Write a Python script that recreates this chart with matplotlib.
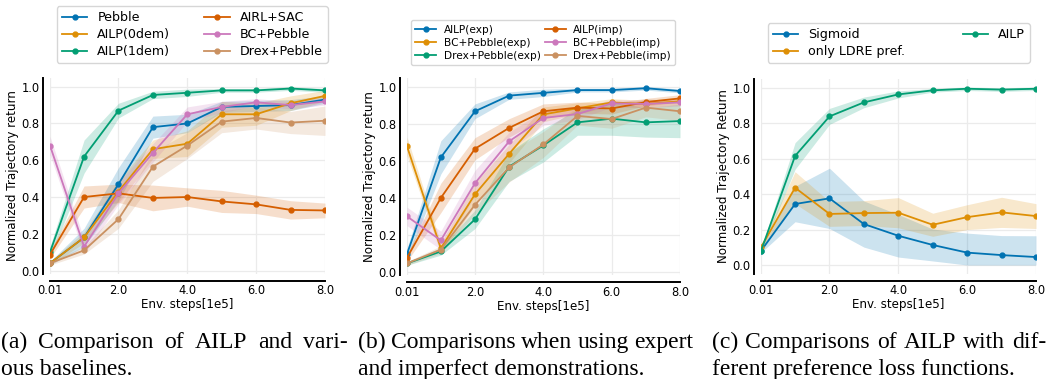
import numpy as np
import matplotlib.pyplot as plt

W, H = 1046, 379

steps = [0.01, 1, 2, 3, 4, 5, 6, 7, 8]
xticks = [0.01, 2, 4, 6, 8]
xticklabels = ["0.01", "2.0", "4.0", "6.0", "8.0"]

# (a) baselines
a_labels = ["Pebble", "AILP(0dem)", "AILP(1dem)", "AIRL+SAC", "BC+Pebble", "Drex+Pebble"]
a_pebble = [0.04, 0.18, 0.47, 0.78, 0.80, 0.89, 0.895, 0.90, 0.93]
a_ailp0 = [0.04, 0.18, 0.43, 0.66, 0.69, 0.85, 0.85, 0.91, 0.95]
a_ailp1 = [0.10, 0.62, 0.87, 0.955, 0.967, 0.98, 0.98, 0.99, 0.98]
a_airl = [0.087, 0.40, 0.42, 0.395, 0.40, 0.376, 0.36, 0.33, 0.327]
a_bc = [0.68, 0.13, 0.42, 0.64, 0.85, 0.89, 0.915, 0.90, 0.92]
a_drex = [0.04, 0.11, 0.28, 0.565, 0.68, 0.81, 0.83, 0.805, 0.815]
a_pebble_sd = [0.01, 0.05, 0.09, 0.06, 0.05, 0.03, 0.03, 0.03, 0.02]
a_ailp0_sd = [0.01, 0.03, 0.06, 0.05, 0.07, 0.07, 0.06, 0.04, 0.03]
a_ailp1_sd = [0.03, 0.09, 0.04, 0.02, 0.02, 0.01, 0.01, 0.01, 0.01]
a_airl_sd = [0.02, 0.06, 0.05, 0.07, 0.05, 0.06, 0.05, 0.05, 0.04]
a_bc_sd = [0.05, 0.04, 0.06, 0.05, 0.04, 0.03, 0.02, 0.02, 0.02]
a_drex_sd = [0.01, 0.02, 0.05, 0.08, 0.07, 0.06, 0.06, 0.06, 0.08]

# (b) expert vs imperfect demos
b_labels = ["AILP(exp)", "BC+Pebble(exp)", "Drex+Pebble(exp)",
            "AILP(imp)", "BC+Pebble(imp)", "Drex+Pebble(imp)"]
b_ailp_exp = [0.096, 0.62, 0.87, 0.955, 0.97, 0.985, 0.985, 0.995, 0.98]
b_bc_exp = [0.68, 0.127, 0.42, 0.64, 0.853, 0.886, 0.918, 0.91, 0.924]
b_drex_exp = [0.045, 0.11, 0.284, 0.57, 0.685, 0.81, 0.83, 0.81, 0.817]
b_ailp_imp = [0.076, 0.40, 0.667, 0.78, 0.87, 0.89, 0.885, 0.92, 0.94]
b_bc_imp = [0.30, 0.17, 0.48, 0.707, 0.834, 0.855, 0.913, 0.91, 0.918]
b_drex_imp = [0.045, 0.12, 0.363, 0.566, 0.69, 0.845, 0.828, 0.89, 0.87]
b_ailp_exp_sd = [0.03, 0.09, 0.04, 0.02, 0.02, 0.01, 0.01, 0.01, 0.01]
b_bc_exp_sd = [0.05, 0.03, 0.06, 0.05, 0.04, 0.03, 0.02, 0.02, 0.02]
b_drex_exp_sd = [0.01, 0.02, 0.05, 0.08, 0.09, 0.07, 0.09, 0.08, 0.09]
b_ailp_imp_sd = [0.02, 0.08, 0.06, 0.05, 0.04, 0.03, 0.03, 0.02, 0.02]
b_bc_imp_sd = [0.05, 0.05, 0.07, 0.05, 0.04, 0.03, 0.02, 0.02, 0.02]
b_drex_imp_sd = [0.01, 0.02, 0.05, 0.08, 0.07, 0.05, 0.05, 0.05, 0.05]

# (c) preference loss functions
c_labels = ["Sigmoid", "only LDRE pref.", "AILP"]
c_sigmoid = [0.08, 0.344, 0.376, 0.231, 0.165, 0.113, 0.07, 0.056, 0.045]
c_ldre = [0.10, 0.436, 0.288, 0.293, 0.295, 0.227, 0.27, 0.297, 0.276]
c_ailp = [0.08, 0.615, 0.838, 0.917, 0.962, 0.985, 0.994, 0.989, 0.994]
c_sigmoid_sd = [0.01, 0.10, 0.17, 0.13, 0.12, 0.09, 0.11, 0.11, 0.12]
c_ldre_sd = [0.01, 0.09, 0.07, 0.07, 0.085, 0.065, 0.07, 0.085, 0.07]
c_ailp_sd = [0.01, 0.075, 0.045, 0.03, 0.02, 0.01, 0.01, 0.01, 0.01]

cb = ["#0173b2", "#de8f05", "#029e73", "#d55e00", "#cc78bc", "#ca9161"]

# caption text, left x, right x of justified first line (pixels)
captions = [
    ("(a) Comparison of AILP and vari-", "ous baselines.", 1, 348),
    ("(b) Comparisons when using expert", "and imperfect demonstrations.", 358, 693),
    ("(c) Comparisons of AILP with dif-", "ferent preference loss functions.", 712, 1046),
]

plt.rcParams["font.family"] = "DejaVu Sans"
plt.rcParams["font.size"] = 8

fig = plt.figure(figsize=(W / 100, H / 100), dpi=100)


def make_ax(x0, x1, ytop, ybot):
    return fig.add_axes([x0 / W, 1 - ybot / H, (x1 - x0) / W, (ybot - ytop) / H])


def style(ax, ylab, ylim):
    ax.set_xlim(0.01, 8)
    ax.set_ylim(*ylim)
    ax.set_xticks(xticks)
    ax.set_xticklabels(xticklabels)
    ax.set_yticks(np.arange(0, 1.01, 0.2))
    ax.set_yticklabels(["%.1f" % v for v in np.arange(0, 1.01, 0.2)])
    ax.grid(True, color="#ebebeb", linewidth=0.9)
    ax.set_axisbelow(True)
    for s in ["top", "right"]:
        ax.spines[s].set_visible(False)
    for s in ["left", "bottom"]:
        ax.spines[s].set_position(("outward", 5))
        ax.spines[s].set_linewidth(1.4)
        ax.spines[s].set_color("black")
    ax.spines["bottom"].set_bounds(0.01, 8)
    ax.tick_params(length=0, pad=2.5, labelsize=8.3)
    ax.set_xlabel("Env. steps[1e5]", fontsize=8.6, labelpad=0.5)
    ax.set_ylabel(ylab, fontsize=8.6, labelpad=2)


def curve(ax, mean, sd, color, label):
    m = np.array(mean)
    s = np.array(sd)
    ax.fill_between(steps, np.clip(m - s, 0, None), m + s, color=color, alpha=0.2, linewidth=0)
    ax.plot(steps, m, color=color, marker="o", markersize=3.5, linewidth=1.3, label=label)


# panel a
ax1 = make_ax(50, 325, 77.5, 273.7)
for m, s, c, l in zip([a_pebble, a_ailp0, a_ailp1, a_airl, a_bc, a_drex],
                      [a_pebble_sd, a_ailp0_sd, a_ailp1_sd, a_airl_sd, a_bc_sd, a_drex_sd],
                      cb, a_labels):
    curve(ax1, m, s, c, l)
style(ax1, "Normalized Trajectory return", (-0.017, 1.05))
ax1.legend(loc="lower left", bbox_to_anchor=(0.025, 1.074, 0.985, 0.3), mode="expand",
           ncol=2, fontsize=9.1, borderaxespad=0, labelspacing=0.3, handlelength=2.0)

# panel b
ax2 = make_ax(407, 680, 78.1, 275.4)
for m, s, c, l in zip([b_ailp_exp, b_bc_exp, b_drex_exp, b_ailp_imp, b_bc_imp, b_drex_imp],
                      [b_ailp_exp_sd, b_bc_exp_sd, b_drex_exp_sd, b_ailp_imp_sd, b_bc_imp_sd, b_drex_imp_sd],
                      cb, b_labels):
    curve(ax2, m, s, c, l)
style(ax2, "Normalized Trajectory return", (-0.02, 1.05))
ax2.legend(loc="lower left", bbox_to_anchor=(0.015, 1.066, 0.967, 0.3), mode="expand",
           ncol=2, fontsize=7.6, borderaxespad=0, labelspacing=0.3, handlelength=2.0,
           handletextpad=0.7)

# panel c
ax3 = make_ax(761, 1036, 78.8, 273.9)
for m, s, c, l in zip([c_sigmoid, c_ldre, c_ailp],
                      [c_sigmoid_sd, c_ldre_sd, c_ailp_sd],
                      cb[:3], c_labels):
    curve(ax3, m, s, c, l)
style(ax3, "Normalized Trajectory Return", (-0.05, 1.05))
ax3.legend(loc="lower left", bbox_to_anchor=(0.025, 1.081, 0.953, 0.3), mode="expand",
           ncol=2, fontsize=9.1, borderaxespad=0, labelspacing=0.3, handlelength=2.0)

# captions: first line justified between x0 and x1
renderer = fig.canvas.get_renderer()
cap_font = dict(family="Liberation Serif", fontsize=17.0, va="baseline")
for l1, l2, x0, x1 in captions:
    words = l1.split(" ")
    items = [fig.text(0, 1 - 348 / H, w, **cap_font) for w in words]
    widths = [t.get_window_extent(renderer).width for t in items]
    gap = (x1 - x0 - sum(widths)) / (len(words) - 1)
    x = x0
    for t, w in zip(items, widths):
        t.set_x(x / W)
        x += w + gap
    fig.text(x0 / W, 1 - 375 / H, l2, **cap_font)

fig.savefig("out.png", dpi=100)
